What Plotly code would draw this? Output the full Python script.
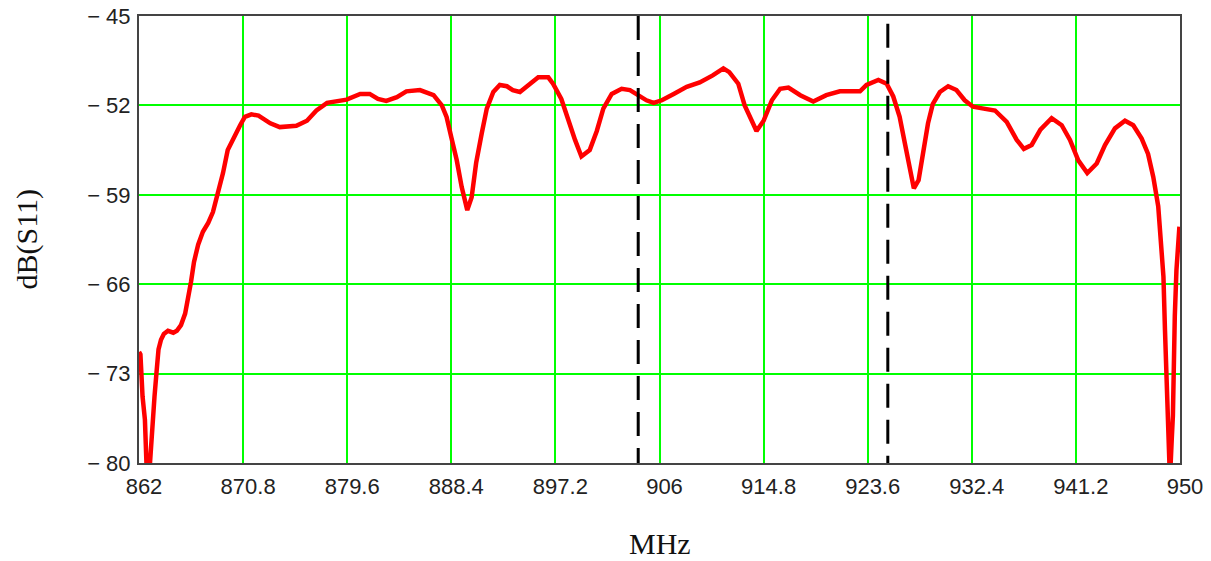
import plotly.graph_objects as go

# Frequency sweep (MHz) and return loss dB(S11)
freq_mhz = [
    862.0, 862.12, 862.3, 862.5, 862.63, 862.76, 862.93, 863.05, 863.18, 863.31,
    863.48, 863.65, 863.86, 864.1, 864.45, 864.9, 865.2, 865.55, 865.9, 866.15,
    866.4, 866.65, 867.0, 867.4, 867.85, 868.25, 868.7, 869.1, 869.5, 869.95,
    870.55, 870.95, 871.5, 872.1, 873.1, 873.9, 875.3, 876.2, 877.0, 877.9,
    878.7, 879.55, 880.7, 881.5, 882.2, 882.9, 883.8, 884.6, 885.75, 886.6,
    886.9, 887.6, 888.0, 888.4, 888.86, 889.28, 889.75, 890.12, 890.5, 890.97,
    891.4, 891.95, 892.5, 893.1, 893.6, 894.2, 894.9, 895.75, 896.6, 897.0,
    897.7, 898.3, 898.86, 899.4, 900.1, 900.7, 901.25, 901.96, 902.8, 903.5,
    904.2, 904.9, 905.5, 906.2, 907.2, 908.3, 909.4, 910.5, 911.4, 911.9,
    912.66, 913.2, 913.8, 914.2, 914.8, 915.5, 916.2, 916.9, 917.9, 919.0,
    920.1, 921.25, 922.95, 923.5, 924.5, 925.2, 925.76, 926.3, 926.75, 927.2,
    927.5, 927.9, 928.3, 928.7, 929.1, 929.7, 930.4, 931.1, 931.8, 932.5,
    933.4, 934.36, 935.35, 936.2, 936.8, 937.46, 938.2, 939.15, 940.0, 940.7,
    941.4, 942.16, 942.96, 943.66, 944.5, 945.35, 946.05, 946.76, 947.3, 947.74,
    948.16, 948.4, 948.6, 948.73, 948.87, 949.0, 949.15, 949.3, 949.4, 949.56,
    949.7, 949.95,
]
s11_db = [
    -71.3, -71.5, -74.8, -76.6, -80.0, -81.3, -80.0, -77.9, -76.4, -74.8,
    -72.9, -71.1, -70.35, -69.9, -69.65, -69.8, -69.65, -69.2, -68.3, -67.2,
    -65.8, -64.25, -62.9, -61.9, -61.2, -60.35, -58.9, -57.3, -55.5, -54.6,
    -53.55, -52.9, -52.7, -52.8, -53.4, -53.7, -53.6, -53.2, -52.4, -51.8,
    -51.65, -51.55, -51.1, -51.1, -51.5, -51.65, -51.35, -50.9, -50.8, -51.1,
    -51.2, -52.0, -52.9, -54.5, -56.3, -58.4, -60.2, -59.2, -56.5, -54.2,
    -52.25, -50.95, -50.4, -50.5, -50.8, -50.95, -50.4, -49.8, -49.8, -50.3,
    -51.5, -53.2, -54.7, -56.0, -55.5, -54.0, -52.25, -51.1, -50.7, -50.8,
    -51.2, -51.6, -51.8, -51.6, -51.1, -50.55, -50.2, -49.65, -49.1, -49.4,
    -50.3, -52.0, -53.2, -54.0, -53.2, -51.6, -50.7, -50.6, -51.2, -51.7,
    -51.2, -50.9, -50.9, -50.4, -50.0, -50.3, -51.3, -52.9, -55.0, -57.1,
    -58.5, -57.85, -55.5, -53.4, -51.9, -50.95, -50.5, -50.8, -51.6, -52.1,
    -52.25, -52.4, -53.3, -54.7, -55.4, -55.1, -53.9, -53.0, -53.55, -54.7,
    -56.3, -57.3, -56.55, -55.1, -53.8, -53.2, -53.55, -54.6, -55.8, -57.6,
    -59.9, -62.6, -65.4, -69.6, -73.5, -78.2, -81.3, -78.2, -76.3, -68.5,
    -64.9, -61.5,
]

# Band-edge markers (MHz)
marker_freqs = [904.2, 925.3]
marker_tops = [-45.0, -45.6]

x_ticks = [862, 870.8, 879.6, 888.4, 897.2, 906, 914.8, 923.6, 932.4, 941.2, 950]
x_tick_text = ["862", "870.8", "879.6", "888.4", "897.2", "906", "914.8",
               "923.6", "932.4", "941.2", "950"]
y_ticks = [-45, -52, -59, -66, -73, -80]
y_tick_text = ["\u2212 45", "\u2212 52", "\u2212 59", "\u2212 66", "\u2212 73", "\u2212 80"]

fig = go.Figure()
fig.add_trace(go.Scatter(
    x=freq_mhz, y=s11_db, mode="lines",
    line=dict(color="#ff0000", width=4.5),
    showlegend=False, hoverinfo="x+y",
))

for f, top in zip(marker_freqs, marker_tops):
    fig.add_shape(
        type="line", xref="x", yref="y",
        x0=f, x1=f, y0=top, y1=-80,
        line=dict(color="black", width=3, dash="24px,12px"),
        layer="above",
    )

tick_font = dict(family="Liberation Sans, Arial, sans-serif", size=22, color="#222222")
title_font = dict(family="Liberation Serif, Times New Roman, serif", size=30, color="#111111")

fig.update_xaxes(
    range=[862, 950], tickvals=x_ticks, ticktext=x_tick_text,
    showgrid=True, gridcolor="#00ff00", gridwidth=1.5,
    zeroline=False, showline=True, mirror=True,
    linecolor="#444444", linewidth=2, automargin=False,
    ticks="", tickfont=tick_font, ticklabelstandoff=3, ticklabelshift=5,
)
fig.update_yaxes(
    range=[-80, -45], tickvals=y_ticks, ticktext=y_tick_text,
    showgrid=True, gridcolor="#00ff00", gridwidth=1.5,
    zeroline=False, showline=True, mirror=True,
    linecolor="#444444", linewidth=2, automargin=False,
    ticks="", tickfont=tick_font, ticklabelstandoff=2,
)

fig.add_annotation(
    text="dB(S11)", xref="paper", yref="paper",
    x=-0.1085, y=0.5, xanchor="center", yanchor="middle",
    textangle=-90, showarrow=False, font=title_font,
)
fig.add_annotation(
    text="MHz", xref="paper", yref="paper",
    x=0.5, y=-0.179, xanchor="center", yanchor="middle",
    showarrow=False, font=title_font,
)

fig.update_layout(
    width=1211, height=561,
    margin=dict(l=139, r=31, t=16, b=98),
    paper_bgcolor="white", plot_bgcolor="white",
)

fig.write_html("out.html")
